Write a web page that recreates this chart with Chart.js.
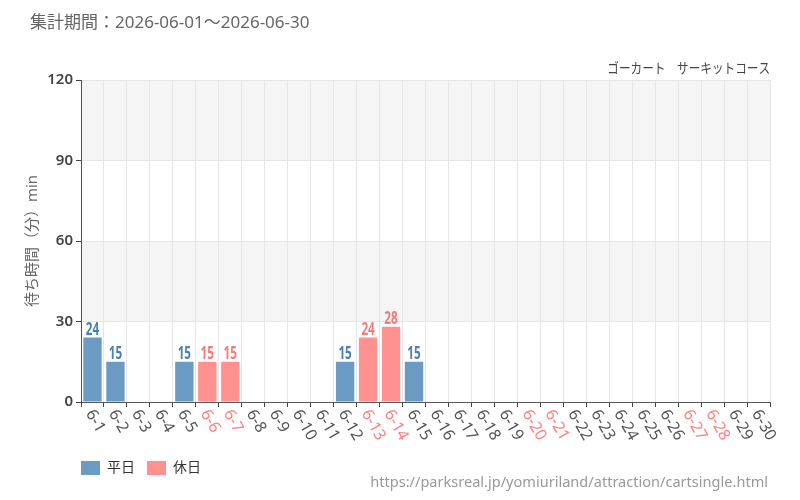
<!DOCTYPE html>
<html>
<head>
<meta charset="utf-8">
<script src="https://cdn.jsdelivr.net/npm/chart.js@4/dist/chart.umd.min.js"></script>
<style>
  html, body { margin: 0; padding: 0; background: #fff; }
  #wrap { width: 800px; height: 500px; position: relative; }
</style>
</head>
<body>
<div id="wrap"><canvas id="waitChart" width="800" height="500"></canvas></div>
<script>
// 日付ラベル
const days = ['6-1','6-2','6-3','6-4','6-5','6-6','6-7','6-8','6-9','6-10',
  '6-11','6-12','6-13','6-14','6-15','6-16','6-17','6-18','6-19','6-20',
  '6-21','6-22','6-23','6-24','6-25','6-26','6-27','6-28','6-29','6-30'];
// 休日（ラベルを赤にする）
const holidays = ['6-6','6-7','6-13','6-14','6-20','6-21','6-27','6-28'];
// 平日の待ち時間
const weekdayWait = [24,15,null,null,15,null,null,null,null,null,
  null,15,null,null,15,null,null,null,null,null,
  null,null,null,null,null,null,null,null,null,null];
// 休日の待ち時間
const holidayWait = [null,null,null,null,null,15,15,null,null,null,
  null,null,24,28,null,null,null,null,null,null,
  null,null,null,null,null,null,null,null,null,null];
const yTicks = [0, 30, 60, 90, 120];

const titleText = '集計期間：2026-06-01～2026-06-30';
const subTitle = 'ゴーカート　サーキットコース';
const sourceUrl = 'https://parksreal.jp/yomiuriland/attraction/cartsingle.html';

const FONT = '"Noto Sans", "Noto Sans CJK JP", sans-serif';

// 横に詰めた文字（細めのフォントの代わり）
function narrowText(ctx, text, x, y, sx) {
  ctx.save();
  ctx.translate(x, y);
  ctx.scale(sx, 1);
  ctx.fillText(text, 0, 0);
  ctx.restore();
}

// 背景の縞模様（グリッドより先に描く）
const bandPlugin = {
  id: 'bands',
  beforeDraw(chart) {
    const { ctx, chartArea: a, scales: { y } } = chart;
    ctx.save();
    ctx.fillStyle = '#f5f5f5';
    for (let i = 0; i < yTicks.length - 1; i++) {
      if (i % 2 === 1) {
        const top = y.getPixelForValue(yTicks[i + 1]);
        const bot = y.getPixelForValue(yTicks[i]);
        ctx.fillRect(a.left, top, a.right - a.left, bot - top);
      }
    }
    ctx.restore();
  }
};

// 凡例を軸の位置まで右へ
const legendShift = {
  id: 'legendShift',
  afterLayout(chart) {
    chart.legend.left += 49;
    chart.legend.right += 49;
  }
};

// テキスト類・値ラベル・斜めのX軸ラベル
const textPlugin = {
  id: 'texts',
  afterDraw(chart) {
    const { ctx, chartArea: a, scales: { x } } = chart;
    ctx.save();
    ctx.fillStyle = '#666';
    ctx.font = '17px ' + FONT;
    ctx.textBaseline = 'middle';
    ctx.textAlign = 'left';
    ctx.fillText(titleText, 30, 23);

    ctx.fillStyle = '#444';
    ctx.font = '14px ' + FONT;
    ctx.textAlign = 'right';
    narrowText(ctx, subTitle, 770, 69, 0.83);

    ctx.fillStyle = '#999';
    ctx.font = '15px ' + FONT;
    narrowText(ctx, sourceUrl, 768, 483, 0.97);

    // X軸ラベル
    ctx.font = '16px ' + FONT;
    ctx.textAlign = 'left';
    days.forEach((d, i) => {
      const px = x.getPixelForValue(i);
      ctx.save();
      ctx.translate(px - 3, a.bottom + 9);
      ctx.rotate(Math.PI / 3);
      ctx.fillStyle = holidays.includes(d) ? '#ff8080' : '#555';
      ctx.fillText(d, 0, 0);
      ctx.restore();
    });

    // 値ラベル
    ctx.font = 'bold 18px ' + FONT;
    ctx.textAlign = 'center';
    ctx.textBaseline = 'bottom';
    chart.data.datasets.forEach((ds, di) => {
      const meta = chart.getDatasetMeta(di);
      meta.data.forEach((bar, i) => {
        if (ds.data[i] == null) return;
        ctx.fillStyle = di === 0 ? '#4a80b4' : '#f57a7a';
        narrowText(ctx, String(ds.data[i]), bar.x, bar.y + 1, 0.65);
      });
    });
    ctx.restore();
  }
};

new Chart(document.getElementById('waitChart'), {
  type: 'bar',
  data: {
    labels: days,
    datasets: [
      { label: '平日', data: weekdayWait, backgroundColor: 'rgba(70,130,180,0.8)' },
      { label: '休日', data: holidayWait, backgroundColor: 'rgba(255,99,99,0.7)' }
    ]
  },
  options: {
    responsive: false,
    animation: false,
    layout: { padding: { top: 80, right: 30, left: 20, bottom: 15 } },
    datasets: { bar: { categoryPercentage: 1, barPercentage: 0.8 } },
    plugins: {
      legend: {
        position: 'bottom',
        align: 'start',
        labels: {
          boxWidth: 19, boxHeight: 14,
          color: '#333',
          font: { size: 14, family: FONT },
          padding: 12
        }
      },
      tooltip: { enabled: false }
    },
    scales: {
      x: {
        stacked: true,
        grid: { color: '#e6e6e6', offset: true, tickColor: '#444', tickLength: 5, drawTicks: true },
        border: { color: '#555' },
        ticks: { display: false },
        afterFit(s) { s.height = 47; }
      },
      y: {
        stacked: true,
        min: 0, max: 120,
        afterBuildTicks(s) { s.ticks = yTicks.map(v => ({ value: v })); },
        grid: { color: '#e6e6e6', tickColor: '#444', tickLength: 5 },
        border: { color: '#555' },
        ticks: { color: '#444', font: { size: 15, family: FONT, weight: '600' }, padding: 3 },
        title: { display: true, text: '待ち時間（分）min', color: '#666', font: { size: 15, family: FONT }, padding: 4 },
        afterFit(s) { s.width = 61; }
      }
    }
  },
  plugins: [bandPlugin, legendShift, textPlugin]
});
</script>
</body>
</html>
